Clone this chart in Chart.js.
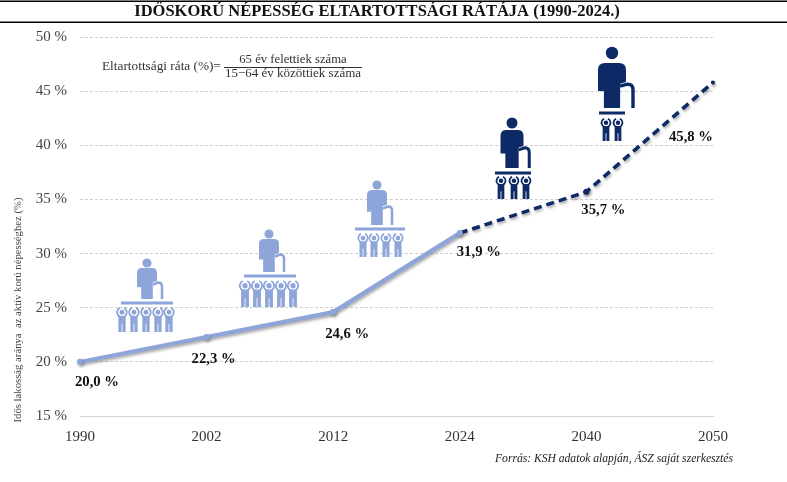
<!DOCTYPE html>
<html><head><meta charset="utf-8">
<script src="https://cdn.jsdelivr.net/npm/chart.js@4"></script>
<style>html,body{margin:0;padding:0;background:#fff}#w{width:787px;height:482px;position:relative}</style>
</head><body><div id="w"><canvas id="c" width="787" height="482"></canvas></div>
<script>
const categories = ['1990','2002','2012','2024','2040','2050'];
const historical = [20.0,22.3,24.6,31.9,null,null];
const projected = [null,null,null,31.9,35.7,45.8];
const pointLabels = ['20,0 %','22,3 %','24,6 %','31,9 %','35,7 %','45,8 %'];
const labelValues = [20.0,22.3,24.6,31.9,35.7,45.8];
const labelDx = [17,7,14,19,17,-22];
const labelDy = [20,22,22,19,18,55];
const titleText = 'IDŐSKORÚ NÉPESSÉG ELTARTOTTSÁGI RÁTÁJA (1990-2024.)';
const yTitle = 'Idős lakosság aránya  az aktív korú népességhez (%)';
const sourceText = 'Forrás: KSH adatok alapján, ÁSZ saját szerkesztés';
const LIGHT='#8ea5d9', DARK='#0e2a66', SERIF='"Liberation Serif"';

// decorative icons: [headX, headY, r, torsoTop, torsoBottom, halfW, barY, barL, barR, childXs, childTop, childBottom, colour]
const icons = [
 [147,263,4.6,268,299,10,303,121,173,[122,134,146,158,169],306,332,LIGHT],
 [269,234,4.6,239,272,10,276,244,296,[245,257,269,281,293],279,307,LIGHT],
 [377,185,4.6,190,225,10,229,355,405,[363,374,386,398],232,257,LIGHT],
 [512,123,5.5,130,168,11.5,173,495,531,[501,514,526],175,199,DARK],
 [612,53,6.2,63,108,14,113,599,625,[606,618],117,141,DARK]
];
function elder(ctx,ic){
 const [hx,hy,r,t,b,hw,by,bl,br,cx,ct,cb,col]=ic;
 ctx.fillStyle=col;ctx.strokeStyle=col;
 ctx.beginPath();ctx.arc(hx,hy,r,0,7);ctx.fill();
 const h=b-t, rad=hw*0.5, arm=t+h*0.62, hem=hw*0.58;
 ctx.beginPath();
 ctx.moveTo(hx-hw+rad,t);ctx.lineTo(hx+hw-rad,t);ctx.quadraticCurveTo(hx+hw,t,hx+hw,t+rad);
 ctx.lineTo(hx+hw,t+h*0.42);ctx.lineTo(hx+hem,t+h*0.46);ctx.lineTo(hx+hem,b);
 ctx.lineTo(hx-hem,b);ctx.lineTo(hx-hem,arm);ctx.lineTo(hx-hw,arm);
 ctx.lineTo(hx-hw,t+rad);ctx.quadraticCurveTo(hx-hw,t,hx-hw+rad,t);ctx.fill();
 // cane
 const cw=r*0.55, cr=hx+hw*1.5, ty=t+h*0.47;
 ctx.lineWidth=cw;ctx.beginPath();ctx.moveTo(hx+hem,ty+2);ctx.lineTo(cr-hw*0.4,ty);
 ctx.quadraticCurveTo(cr,ty,cr,ty+hw*0.4);ctx.lineTo(cr,b);ctx.stroke();
 // platform
 ctx.fillRect(bl,by-1.5,br-bl,3);
 // children
 cx.forEach(x=>{
  const H=cb-ct, cy=ct+H*0.24, w=H*0.14;
  ctx.fillStyle=col;ctx.strokeStyle=col;
  ctx.beginPath();ctx.arc(x,cy,H*0.095,0,7);ctx.fill();
  ctx.lineWidth=1.8;ctx.beginPath();ctx.arc(x,cy,H*0.185,-Math.PI*0.36,-Math.PI*0.64,false);ctx.stroke();
  ctx.fillRect(x-w,cy+H*0.14,w*2,ct+H-(cy+H*0.14));
  ctx.fillStyle='#fff';ctx.fillRect(x-0.4,ct+H*0.68,0.8,H*0.32);
 });
}
const deco={id:'deco',
 beforeDatasetDraw(c,a){const x=c.ctx;x.save();x.shadowColor='rgba(60,60,60,.45)';x.shadowBlur=3;x.shadowOffsetX=1;x.shadowOffsetY=2;},
 afterDatasetDraw(c){c.ctx.restore();},
 afterDraw(c){
  const x=c.ctx,sx=c.scales.x,sy=c.scales.y;x.save();
  x.fillStyle='#000';x.fillRect(0,0.5,787,1.5);x.fillRect(0,21.5,787,1.5);
  x.textBaseline='middle';x.textAlign='center';
  x.fillStyle='#111';x.font='bold 16.5px '+SERIF;x.fillText(titleText,377,12);
  x.fillStyle='#333';x.font='13.3px '+SERIF;x.textAlign='left';x.fillText('Eltartottsági ráta (%)=',102,67);
  x.textAlign='center';x.font='12.7px '+SERIF;x.fillText('65 év felettiek száma',293,60);x.font='13px '+SERIF;x.fillText('15−64 év közöttiek száma',293,74);
  x.fillRect(224,67,138,1);
  x.fillStyle='#222';x.font='italic 11.6px '+SERIF;x.textAlign='right';x.fillText(sourceText,733,459);
  x.save();x.translate(18,310);x.rotate(-Math.PI/2);x.textAlign='center';x.fillStyle='#444';x.font='10.7px '+SERIF;x.fillText(yTitle,0,0);x.restore();
  icons.forEach(i=>elder(x,i));
  x.fillStyle='#111';x.font='bold 14.7px '+SERIF;x.textAlign='center';
  pointLabels.forEach((t,i)=>x.fillText(t,sx.getPixelForValue(i)+labelDx[i],sy.getPixelForValue(labelValues[i])+labelDy[i]));
  x.restore();
 }};
new Chart(document.getElementById('c'),{type:'line',plugins:[deco],
 data:{labels:categories,datasets:[
  {data:historical,borderColor:LIGHT,backgroundColor:LIGHT,borderWidth:4,pointRadius:3,pointBackgroundColor:LIGHT,pointBorderWidth:0,tension:0,spanGaps:false},
  {data:projected,borderColor:DARK,backgroundColor:DARK,borderWidth:3.5,borderDash:[8,5],pointRadius:[0,0,0,0,3,2],pointBackgroundColor:DARK,pointBorderWidth:0,tension:0}
 ]},
 options:{responsive:false,animation:false,devicePixelRatio:1,
  layout:{padding:{top:37,right:74,left:0,bottom:0}},
  plugins:{legend:{display:false},title:{display:false},tooltip:{enabled:false}},
  scales:{
   x:{offset:false,grid:{display:false,drawTicks:false},border:{display:true,color:'#d4d4d4',width:1},
      ticks:{color:'#333',font:{family:SERIF,size:15},padding:12,maxRotation:0},
      afterFit(s){s.height=66;}},
   y:{min:15,max:50,grid:{color:'#cfcfcf',lineWidth:1,drawTicks:false},border:{display:false,dash:[3,2]},
      ticks:{stepSize:5,color:'#444',font:{family:SERIF,size:15},padding:13,callback:v=>v+' %'},
      afterFit(s){s.width=80;}}
  }}});
</script></body></html>
